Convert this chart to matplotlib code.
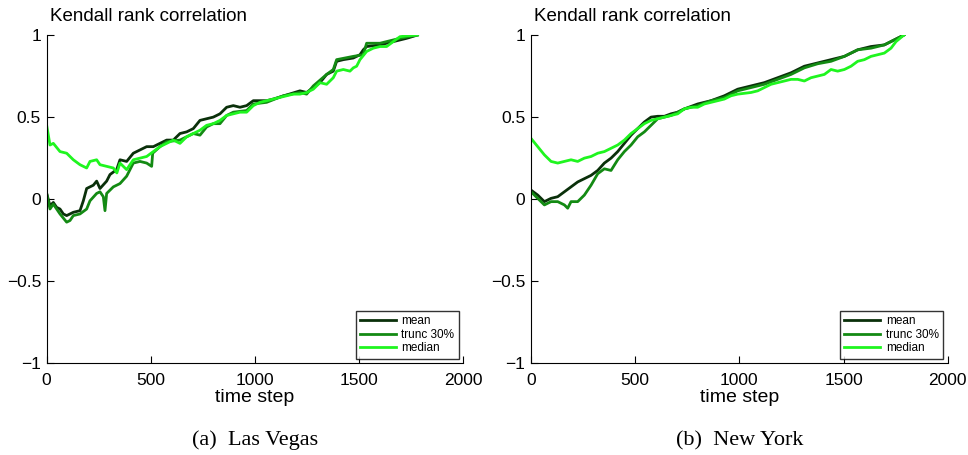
import matplotlib
matplotlib.use("Agg")
import matplotlib.pyplot as plt

plt.rcParams["font.family"] = ["Liberation Sans", "DejaVu Sans"]

# ---- Las Vegas ----
lv_mean_x = [0, 16, 32, 48, 64, 80, 96, 112, 128, 160, 176, 192, 224, 240, 256, 288, 304,
             336, 352, 384, 416, 448, 480, 512, 544, 576, 608, 640, 672, 704, 736, 768, 800,
             832, 864, 896, 928, 960, 992, 1024, 1056, 1088, 1216, 1248, 1280, 1312, 1344,
             1376, 1392, 1424, 1472, 1504, 1520, 1536, 1600, 1664, 1728, 1780]
lv_mean_y = [0.035, -0.04, -0.02, -0.05, -0.06, -0.09, -0.10, -0.09, -0.08, -0.07, -0.01,
             0.065, 0.085, 0.11, 0.065, 0.11, 0.15, 0.18, 0.24, 0.23, 0.28, 0.30, 0.32, 0.32,
             0.34, 0.36, 0.36, 0.40, 0.41, 0.43, 0.48, 0.49, 0.50, 0.52, 0.56, 0.57, 0.56,
             0.57, 0.60, 0.60, 0.60, 0.61, 0.66, 0.65, 0.68, 0.71, 0.76, 0.78, 0.84, 0.85,
             0.86, 0.88, 0.91, 0.93, 0.94, 0.96, 0.98, 1.0]

lv_trunc_x = [0, 16, 32, 64, 96, 112, 128, 160, 192, 208, 240, 256, 272, 280, 288, 320, 352,
              384, 416, 448, 480, 504, 509, 544, 576, 640, 704, 736, 768, 800, 832, 864, 896,
              960, 992, 1056, 1136, 1216, 1248, 1280, 1344, 1376, 1392, 1472, 1520, 1536,
              1600, 1696, 1780]
lv_trunc_y = [0.035, -0.06, -0.03, -0.09, -0.14, -0.13, -0.10, -0.09, -0.06, -0.01, 0.035,
              0.045, 0.015, -0.07, 0.035, 0.075, 0.095, 0.14, 0.22, 0.23, 0.22, 0.20, 0.28,
              0.32, 0.35, 0.36, 0.40, 0.39, 0.44, 0.46, 0.46, 0.51, 0.53, 0.54, 0.58, 0.59,
              0.63, 0.65, 0.64, 0.69, 0.76, 0.79, 0.85, 0.87, 0.88, 0.95, 0.95, 0.98, 1.0]

lv_median_x = [0, 16, 32, 64, 96, 128, 160, 192, 208, 240, 256, 288, 320, 337, 352, 384, 416,
               480, 512, 544, 576, 608, 640, 672, 704, 736, 768, 800, 832, 864, 896, 928, 960,
               992, 1024, 1056, 1088, 1120, 1152, 1184, 1216, 1248, 1280, 1312, 1344, 1376,
               1392, 1424, 1456, 1472, 1488, 1504, 1536, 1568, 1600, 1632, 1664, 1696, 1728,
               1780]
lv_median_y = [0.45, 0.33, 0.34, 0.29, 0.28, 0.24, 0.21, 0.19, 0.23, 0.24, 0.21, 0.20, 0.19,
               0.16, 0.22, 0.18, 0.24, 0.26, 0.29, 0.32, 0.34, 0.36, 0.34, 0.38, 0.40, 0.42,
               0.45, 0.46, 0.48, 0.51, 0.52, 0.53, 0.53, 0.57, 0.59, 0.60, 0.61, 0.62, 0.63,
               0.64, 0.64, 0.65, 0.67, 0.71, 0.70, 0.74, 0.78, 0.79, 0.78, 0.80, 0.81, 0.85,
               0.90, 0.92, 0.93, 0.93, 0.96, 0.99, 0.995, 1.0]

# ---- New York ----
ny_mean_x = [0, 32, 64, 80, 96, 128, 160, 192, 224, 256, 288, 320, 352, 384, 416, 448, 480,
             512, 544, 576, 608, 640, 672, 704, 736, 800, 864, 928, 992, 1056, 1120, 1184,
             1248, 1312, 1376, 1440, 1504, 1568, 1632, 1696, 1790]
ny_mean_y = [0.055, 0.025, -0.015, -0.005, 0.005, 0.015, 0.045, 0.075, 0.105, 0.125, 0.145,
             0.175, 0.22, 0.25, 0.29, 0.34, 0.39, 0.43, 0.47, 0.50, 0.505, 0.505, 0.52, 0.53,
             0.55, 0.58, 0.60, 0.63, 0.67, 0.69, 0.71, 0.74, 0.77, 0.81, 0.83, 0.85, 0.87,
             0.91, 0.93, 0.94, 1.0]

ny_trunc_x = [0, 32, 64, 96, 128, 160, 176, 192, 224, 256, 288, 320, 352, 384, 416, 448, 480,
              512, 544, 576, 608, 672, 736, 800, 864, 928, 992, 1056, 1120, 1184, 1248, 1312,
              1376, 1440, 1504, 1568, 1632, 1696, 1790]
ny_trunc_y = [0.045, 0.005, -0.035, -0.015, -0.015, -0.035, -0.055, -0.015, -0.015, 0.025,
              0.085, 0.155, 0.185, 0.175, 0.24, 0.29, 0.33, 0.38, 0.41, 0.45, 0.49, 0.51,
              0.55, 0.57, 0.60, 0.62, 0.66, 0.68, 0.70, 0.73, 0.76, 0.80, 0.825, 0.84, 0.87,
              0.91, 0.92, 0.94, 1.0]

ny_median_x = [0, 32, 64, 96, 128, 160, 192, 224, 256, 288, 320, 352, 384, 416, 448, 480, 512,
               544, 576, 608, 640, 672, 704, 736, 768, 800, 832, 864, 896, 928, 960, 992,
               1024, 1056, 1088, 1120, 1152, 1184, 1216, 1248, 1280, 1312, 1344, 1376, 1408,
               1440, 1472, 1504, 1536, 1568, 1600, 1632, 1664, 1696, 1728, 1752, 1790]
ny_median_y = [0.37, 0.32, 0.27, 0.23, 0.22, 0.23, 0.24, 0.23, 0.25, 0.26, 0.28, 0.29, 0.31,
               0.33, 0.36, 0.40, 0.43, 0.46, 0.48, 0.49, 0.50, 0.51, 0.52, 0.55, 0.56, 0.56,
               0.58, 0.59, 0.60, 0.61, 0.63, 0.64, 0.645, 0.65, 0.66, 0.68, 0.70, 0.71, 0.72,
               0.73, 0.73, 0.72, 0.74, 0.75, 0.76, 0.79, 0.78, 0.79, 0.81, 0.84, 0.85, 0.87,
               0.88, 0.89, 0.92, 0.96, 1.0]

panels = [
    ("(a)  Las Vegas", (lv_mean_x, lv_mean_y), (lv_trunc_x, lv_trunc_y), (lv_median_x, lv_median_y)),
    ("(b)  New York", (ny_mean_x, ny_mean_y), (ny_trunc_x, ny_trunc_y), (ny_median_x, ny_median_y)),
]

colors = ["#0a300a", "#138a13", "#1ff51f"]
labels = ["mean", "trunc 30%", "median"]

fig = plt.figure(figsize=(9.68, 4.55), dpi=100)
lefts = [0.0482, 0.5486]

for left, (caption, *series) in zip(lefts, panels):
    ax = fig.add_axes([left, 0.2015, 0.4304, 0.7215])
    for (x, y), c, lab in zip(series, colors, labels):
        ax.plot(x, y, color=c, lw=2.0, label=lab)
    ax.set_xlim(0, 2000)
    ax.set_ylim(-1, 1)
    ax.set_xticks([0, 500, 1000, 1500, 2000])
    ax.set_yticks([-1, -0.5, 0, 0.5, 1])
    ax.set_yticklabels(["\u22121", "\u22120.5", "0", "0.5", "1"])
    ax.spines["top"].set_visible(False)
    ax.spines["right"].set_visible(False)
    ax.tick_params(direction="in", length=5, labelsize=12.5, pad=4)
    ax.tick_params(axis="x", pad=7)
    ax.set_xlabel("time step", fontsize=14, labelpad=1)
    ax.text(0.008, 1.03, "Kendall rank correlation", transform=ax.transAxes,
            fontsize=13.5, ha="left", va="bottom")
    leg = ax.legend(loc="lower right", fontsize=8.5, frameon=True, fancybox=False,
                    edgecolor="black", handlelength=3.0, borderaxespad=0.4,
                    labelspacing=0.15, handletextpad=0.5, borderpad=0.35)
    leg.get_frame().set_linewidth(1.0)
    ax.text(0.5, -0.235, caption, transform=ax.transAxes, ha="center", va="center",
            fontsize=16, family=["Liberation Serif", "DejaVu Serif"])

fig.savefig("out.png", dpi=100)
